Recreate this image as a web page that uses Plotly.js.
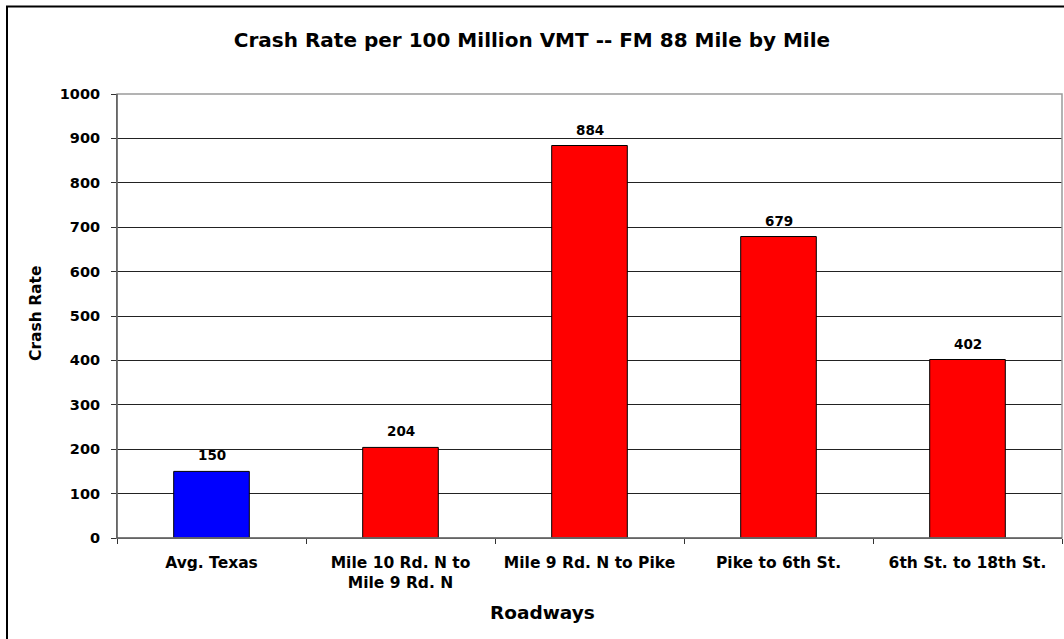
<!DOCTYPE html>
<html>
<head>
<meta charset="utf-8">
<script src="https://cdn.plot.ly/plotly-3.0.1.min.js"></script>
<style>
html,body{margin:0;padding:0;background:#fff;}
#chart{width:1064px;height:639px;}
</style>
</head>
<body>
<div id="chart"></div>
<script>
const categories = ["Avg. Texas", "Mile 10 Rd. N to<br>Mile 9 Rd. N", "Mile 9 Rd. N to Pike", "Pike to 6th St.", "6th St. to 18th St."];
const crashRates = [150, 204, 884, 679, 402];
const barColors = ["#0000FF", "#FF0000", "#FF0000", "#FF0000", "#FF0000"];
const yTicks = [0, 100, 200, 300, 400, 500, 600, 700, 800, 900, 1000];

const font = "DejaVu Sans, Liberation Sans, Arial, sans-serif";

const trace = {
  type: "bar",
  x: categories,
  y: crashRates,
  marker: {color: barColors, line: {color: "#000", width: 1}},
  hoverinfo: "x+y"
};

const valueLabels = crashRates.map((v, i) => ({
  x: categories[i], y: v, xref: "x", yref: "y",
  text: "<b>" + v + "</b>", showarrow: false,
  yanchor: "middle", yshift: 16,
  font: {family: font, size: 13.5, color: "#000"}
}));

const layout = {
  width: 1064, height: 639,
  margin: {l: 117, r: 2, t: 94, b: 101},
  paper_bgcolor: "#fff", plot_bgcolor: "#fff",
  bargap: 0.6,
  showlegend: false,
  title: {text: "<b>Crash Rate per 100 Million VMT -- FM 88 Mile by Mile</b>", x: 0.5, xref: "container", xanchor: "center", y: 1 - 40/639, yanchor: "middle", yref: "container",
          font: {family: font, size: 20, color: "#000"}},
  xaxis: {
    type: "category",
    tickson: "boundaries",
    ticks: "outside", ticklen: 5, tickcolor: "#333", tickwidth: 1,
    ticklabelstandoff: 10,
    showgrid: false,
    showline: true, linecolor: "#444", linewidth: 1,
    tickfont: {family: font, size: 15.5, color: "#000", weight: "bold"},
    tickangle: 0,
    automargin: false
  },
  yaxis: {
    range: [0, 1000],
    tickvals: yTicks,
    ticks: "outside", ticklen: 5, tickcolor: "#333",
    ticklabelstandoff: 8,
    showgrid: true, gridcolor: "#222", gridwidth: 1,
    showline: true, linecolor: "#444", linewidth: 1,
    zeroline: false,
    tickfont: {family: font, size: 14.5, color: "#000", weight: "bold"},
    automargin: false
  },
  annotations: valueLabels.concat([
    {text: "<b>Roadways</b>", xref: "paper", yref: "paper", x: (542-117)/945, y: (538-612)/444, xanchor: "center", yanchor: "middle", showarrow: false,
     font: {family: font, size: 18.5, color: "#000"}},
    {text: "<b>Crash Rate</b>", xref: "paper", yref: "paper", x: (36-117)/945, y: (538-314)/444, xanchor: "center", yanchor: "middle", textangle: -90, showarrow: false,
     font: {family: font, size: 15.5, color: "#000"}}
  ]),
  shapes: [
    {type: "rect", xref: "paper", yref: "paper", x0: 0, x1: 1, y0: 0, y1: 1, line: {color: "#9a9a9a", width: 1.5}, layer: "above"},
    {type: "line", xref: "paper", yref: "paper", x0: 0, x1: 0, y0: 0, y1: 1, line: {color: "#444", width: 1}, layer: "above"},
    {type: "line", xref: "paper", yref: "paper", x0: 0, x1: 1, y0: 0, y1: 0, line: {color: "#444", width: 1}, layer: "above"},
    {type: "rect", xref: "paper", yref: "paper", x0: (7-117)/945, x1: 1.02, y0: (538-660)/444, y1: (538-6.5)/444, line: {color: "#000", width: 2}, layer: "above"}
  ]
};

Plotly.newPlot("chart", [trace], layout, {displayModeBar: false, staticPlot: true});
</script>
</body>
</html>
